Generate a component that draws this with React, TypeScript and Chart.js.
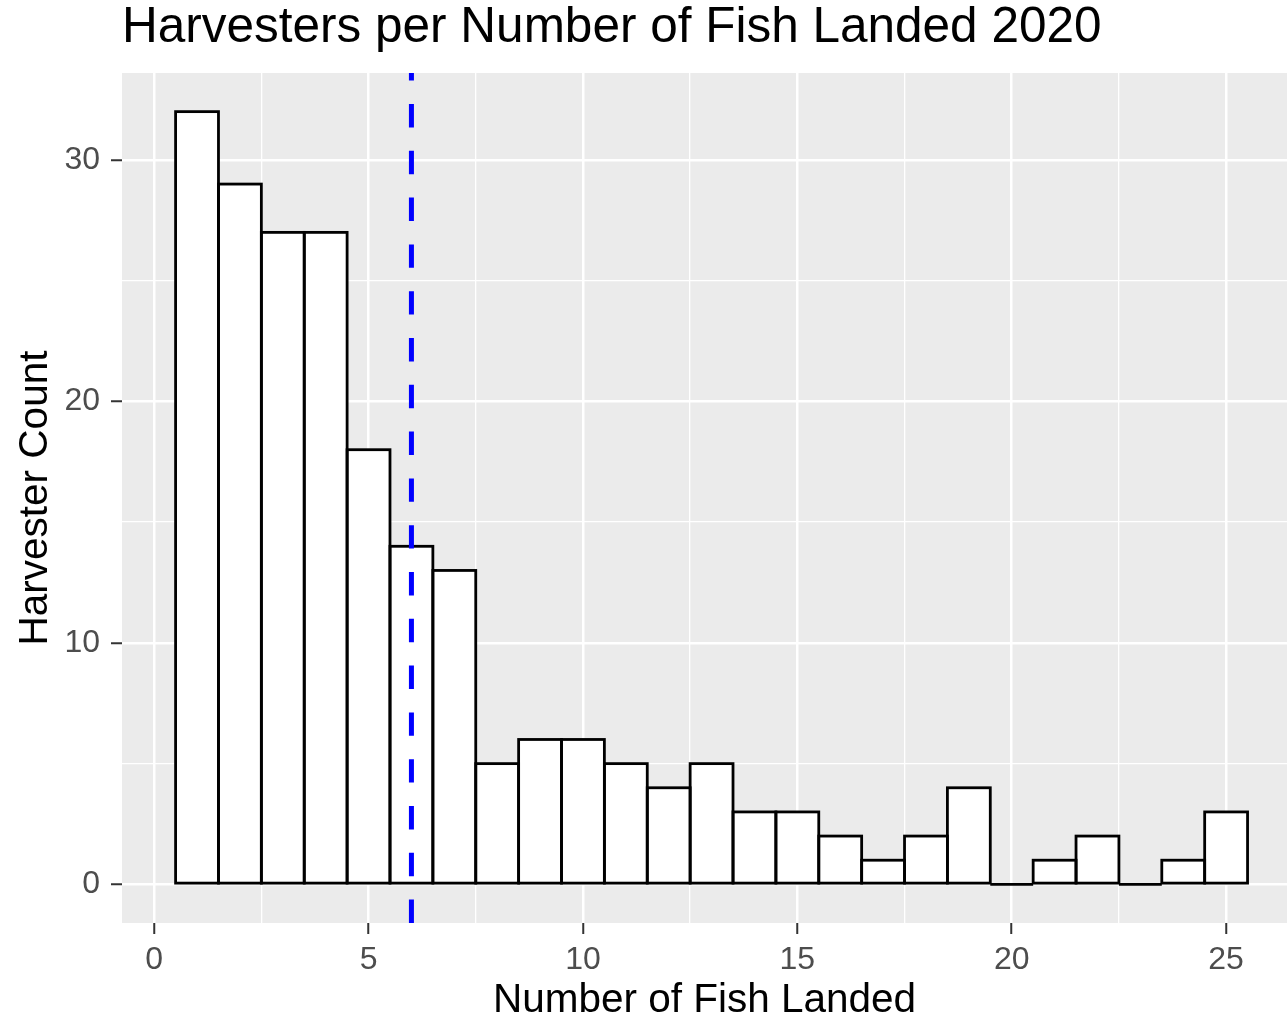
import React, { useEffect, useRef } from 'react';
import { Chart, registerables } from 'chart.js';

Chart.register(...registerables);

// ---- Data ----
const binCenters = [1, 2, 3, 4, 5, 6, 7, 8, 9, 10, 11, 12, 13, 14, 15, 16, 17, 18, 19, 20, 21, 22, 23, 24, 25];
const harvesterCounts = [32, 29, 27, 27, 18, 14, 13, 5, 6, 6, 5, 4, 5, 3, 3, 2, 1, 2, 4, 0, 1, 2, 0, 1, 3];
const meanFishLanded = 6;

const xMajorTicks = [0, 5, 10, 15, 20, 25];
const xMinorTicks = [2.5, 7.5, 12.5, 17.5, 22.5];
const yMajorTicks = [0, 10, 20, 30];
const yMinorTicks = [5, 15, 25];

const chartTitle = 'Harvesters per Number of Fish Landed 2020';
const xAxisTitle = 'Number of Fish Landed';
const yAxisTitle = 'Harvester Count';

const FONT = "'Liberation Sans', Arial, Helvetica, sans-serif";

const panelBackground = {
  id: 'panelBackground',
  beforeDraw(chart: any) {
    const { ctx, chartArea } = chart;
    if (!chartArea) return;
    ctx.save();
    ctx.fillStyle = '#EBEBEB';
    ctx.fillRect(chartArea.left, chartArea.top, chartArea.right - chartArea.left, chartArea.bottom - chartArea.top);
    ctx.restore();
  },
};

const barOutlines = {
  id: 'barOutlines',
  afterDatasetsDraw(chart: any) {
    const { ctx } = chart;
    const meta = chart.getDatasetMeta(0);
    ctx.save();
    ctx.strokeStyle = '#000000';
    ctx.lineWidth = 2.8;
    ctx.lineJoin = 'miter';
    meta.data.forEach((el: any) => {
      const { x, y, base, width } = el.getProps(['x', 'y', 'base', 'width'], true);
      ctx.strokeRect(x - width / 2, Math.min(y, base), width, Math.abs(base - y));
    });
    ctx.restore();
  },
};

const meanLine = {
  id: 'meanLine',
  afterDatasetsDraw(chart: any) {
    const { ctx, chartArea, scales } = chart;
    const px = scales.x.getPixelForValue(meanFishLanded);
    ctx.save();
    ctx.strokeStyle = '#0000FF';
    ctx.lineWidth = 5;
    ctx.lineCap = 'butt';
    ctx.setLineDash([23.4, 23.4]);
    ctx.beginPath();
    ctx.moveTo(px, chartArea.bottom);
    ctx.lineTo(px, chartArea.top);
    ctx.stroke();
    ctx.restore();
  },
};

export default function App() {
  const canvasRef = useRef<HTMLCanvasElement | null>(null);

  useEffect(() => {
    if (!canvasRef.current) return;
    const xAll = [...xMajorTicks, ...xMinorTicks].sort((a, b) => a - b);
    const yAll = [...yMajorTicks, ...yMinorTicks].sort((a, b) => a - b);

    const chart = new Chart(canvasRef.current, {
      type: 'bar',
      data: {
        datasets: [
          {
            label: yAxisTitle,
            data: binCenters.map((x, i) => ({ x, y: harvesterCounts[i] })),
            backgroundColor: '#FFFFFF',
            borderWidth: 0,
            barPercentage: 1,
            categoryPercentage: 1,
          },
        ],
      },
      options: {
        animation: false,
        responsive: false,
        maintainAspectRatio: false,
        devicePixelRatio: 1,
        layout: { padding: 0 },
        plugins: {
          legend: { display: false },
          tooltip: { enabled: false },
          title: {
            display: true,
            text: chartTitle,
            align: 'start',
            fullSize: false,
            color: '#000000',
            font: { family: FONT, size: 49.5, weight: 'normal', lineHeight: 1 },
            padding: { top: 3.1, bottom: 20.4 },
          },
        },
        scales: {
          x: {
            type: 'linear',
            min: -0.75,
            max: 26.42,
            offset: false,
            afterBuildTicks: (scale: any) => {
              scale.ticks = xAll.map((v) => ({ value: v }));
            },
            afterFit: (scale: any) => {
              scale.height = 101;
            },
            grid: {
              offset: false,
              color: '#FFFFFF',
              lineWidth: (c: any) => (xMajorTicks.includes(c.tick?.value) ? 2.5 : 1.3),
              drawTicks: true,
              tickLength: 11,
              tickWidth: 2,
              tickColor: (c: any) => (xMajorTicks.includes(c.tick?.value) ? '#333333' : 'rgba(0,0,0,0)'),
            },
            border: { display: false },
            ticks: {
              autoSkip: false,
              maxRotation: 0,
              minRotation: 0,
              padding: 7,
              color: '#4D4D4D',
              font: { family: FONT, size: 32, lineHeight: 1.2 },
              callback: (value: any) => (xMajorTicks.includes(Number(value)) ? String(value) : ''),
            },
            title: {
              display: true,
              text: xAxisTitle,
              color: '#000000',
              font: { family: FONT, size: 40.5, lineHeight: 1 },
              padding: { top: 0, bottom: 3 },
            },
          },
          y: {
            type: 'linear',
            min: -1.6,
            max: 33.6,
            afterBuildTicks: (scale: any) => {
              scale.ticks = yAll.map((v) => ({ value: v }));
            },
            afterFit: (scale: any) => {
              scale.width = 122;
            },
            grid: {
              color: '#FFFFFF',
              lineWidth: (c: any) => (yMajorTicks.includes(c.tick?.value) ? 2.5 : 1.3),
              drawTicks: true,
              tickLength: 11,
              tickWidth: 2,
              tickColor: (c: any) => (yMajorTicks.includes(c.tick?.value) ? '#333333' : 'rgba(0,0,0,0)'),
            },
            border: { display: false },
            ticks: {
              autoSkip: false,
              padding: 11,
              color: '#4D4D4D',
              font: { family: FONT, size: 32, lineHeight: 1.2 },
              callback: (value: any) => (yMajorTicks.includes(Number(value)) ? String(value) : ''),
            },
            title: {
              display: true,
              text: yAxisTitle,
              color: '#000000',
              font: { family: FONT, size: 40.5, lineHeight: 1 },
              padding: { top: 16, bottom: 0 },
            },
          },
        },
      },
      plugins: [panelBackground, barOutlines, meanLine],
    } as any);

    return () => {
      chart.destroy();
    };
  }, []);

  return (
    <div style={{ position: 'fixed', left: 0, top: 0, width: 1287, height: 1024, background: '#FFFFFF' }}>
      <canvas ref={canvasRef} width={1287} height={1024} style={{ display: 'block', width: 1287, height: 1024 }} />
    </div>
  );
}
